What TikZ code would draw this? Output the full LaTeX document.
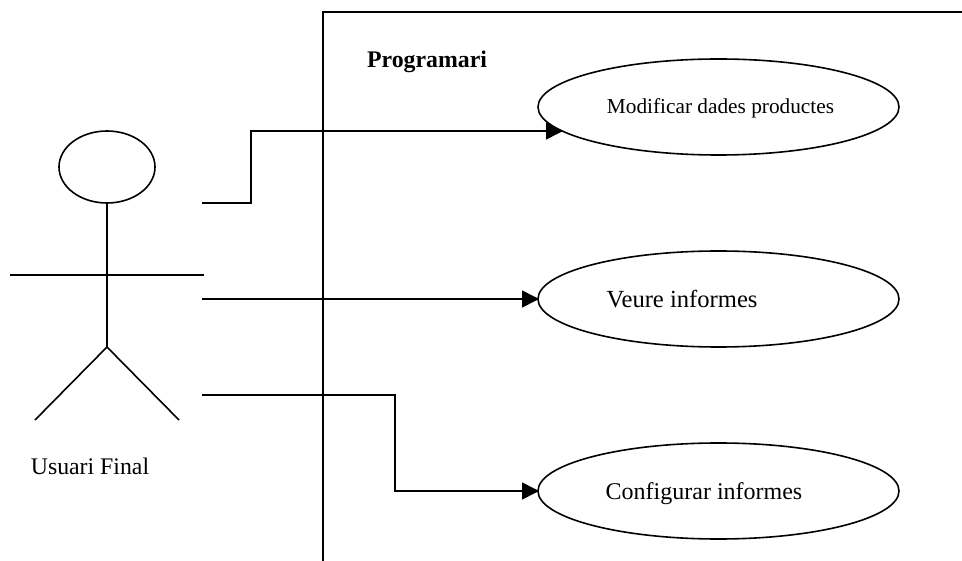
\documentclass[tikz,border=0pt]{standalone}
\usepackage{fontspec}
\setmainfont{Liberation Serif}
\usetikzlibrary{arrows.meta,shapes.geometric}

\tikzset{
  usecase/.style={ellipse,draw,line width=1.6pt,minimum width=361pt,minimum height=96pt,inner sep=0pt},
  actorpart/.style={line width=1.6pt},
  link/.style={line width=1.6pt,-{Triangle[length=17pt,width=17pt]}},
  caption/.style={inner sep=0pt,anchor=base}
}

\begin{document}
\begin{tikzpicture}[x=1pt,y=-1pt]
\useasboundingbox (0,0) rectangle (962,561);

% system boundary
\coordinate (b1) at (323,561);
\coordinate (b2) at (323,12);
\coordinate (b3) at (962,12);
\draw[actorpart] (b1)--(b2)--(b3);
\node[caption,font=\bfseries\fontsize{23.8}{24}\selectfont] (sys) at (427,68) {Programari};

% actor
\node[ellipse,draw,line width=1.6pt,minimum width=96pt,minimum height=72pt,inner sep=0pt] (head) at (107,167) {};
\coordinate (hip) at (107,347);
\coordinate (footl) at (35,420);
\coordinate (footr) at (179,420);
\coordinate (arml) at (10,275);
\coordinate (armr) at (204,275);
\draw[actorpart] (head.south)--(hip);
\draw[actorpart] (arml)--(armr);
\draw[actorpart] (footl)--(hip)--(footr);
\node[caption,font=\fontsize{23.8}{24}\selectfont] (user) at (90,475) {Usuari Final};

% use cases
\node[usecase] (uc1) at (718.5,107) {};
\node[usecase] (uc2) at (718.5,299) {};
\node[usecase] (uc3) at (718.5,491) {};
\node[caption,font=\fontsize{21.3}{22}\selectfont] (t1) at (720.5,114) {Modificar dades productes};
\node[caption,font=\fontsize{24.6}{25}\selectfont] (t2) at (682,308) {Veure informes};
\node[caption,font=\fontsize{24}{24}\selectfont] (t3) at (704,499) {Configurar informes};

% links
\coordinate (s1) at (202,203);
\coordinate (s2) at (202,299);
\coordinate (s3) at (202,395);
\coordinate (e1) at (563,131);
\coordinate (e2) at (539,299);
\coordinate (e3) at (539,491);
\draw[link] (s1)--(251,203)--(251,131)--(e1);
\draw[link] (s2)--(e2);
\draw[link] (s3)--(395,395)--(395,491)--(e3);
\end{tikzpicture}
\end{document}
